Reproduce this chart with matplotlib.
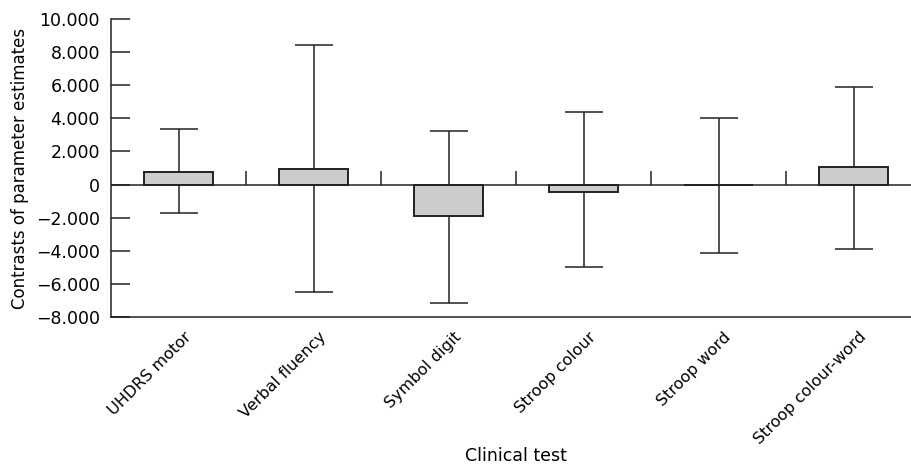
import numpy as np
import matplotlib
matplotlib.use("Agg")
import matplotlib.pyplot as plt
import matplotlib.transforms as mtransforms
from matplotlib.ticker import FuncFormatter

# values (contrasts, with CI bounds)
tests = ["UHDRS motor", "Verbal fluency", "Symbol digit",
         "Stroop colour", "Stroop word", "Stroop colour-word"]
estimate = [0.77, 0.95, -1.91, -0.42, 0.0, 1.05]
upper = [3.36, 8.41, 3.26, 4.37, 3.99, 5.92]
lower = [-1.71, -6.48, -7.17, -4.97, -4.13, -3.87]

plt.rcParams["font.family"] = ["DejaVu Sans"]
plt.rcParams["font.size"] = 11

fig = plt.figure(figsize=(9.11, 4.70), dpi=100)
ax = fig.add_axes([111 / 911, 153 / 470, 810 / 911, 298 / 470])

x = np.arange(len(tests))
est = np.array(estimate)
yerr = [est - np.array(lower), np.array(upper) - est]

ax.bar(x, est, width=0.51, color="#cccccc", edgecolor="#222222", linewidth=1.4, zorder=3)
ax.errorbar(x, est, yerr=yerr, fmt="none", ecolor="#222222", elinewidth=1.1,
            capsize=14, capthick=1.1, zorder=2)

# zero line with category-boundary tick marks
ax.axhline(0, color="#222222", linewidth=1.1, zorder=4)
bounds = np.arange(len(tests) - 1) + 0.5
ax.vlines(bounds, 0, 0.8, color="#222222", linewidth=1.1, zorder=4)

ax.set_xlim(-0.5, len(tests) - 0.5)
ax.set_ylim(-8, 10)
ax.set_yticks(np.arange(-8, 11, 2))
ax.yaxis.set_major_formatter(FuncFormatter(
    lambda v, p: "0" if v == 0 else f"{v:.3f}".replace("-", "\u2212")))
ax.tick_params(axis="y", direction="in", length=14, width=1.1, color="#222222",
               pad=8, labelsize=12.5)
ax.tick_params(axis="x", length=0, pad=9, labelsize=11.5)

ax.set_xticks(x)
ax.set_xticklabels(tests, rotation=45, ha="right", va="top", rotation_mode="anchor")
shift = mtransforms.ScaledTranslation(5 / 100, 0, fig.dpi_scale_trans)
for lbl in ax.get_xticklabels():
    lbl.set_transform(lbl.get_transform() + shift)

for s in ["top", "right"]:
    ax.spines[s].set_visible(False)
for s in ["left", "bottom"]:
    ax.spines[s].set_linewidth(1.1)
    ax.spines[s].set_color("#222222")

ax.set_ylabel("Contrasts of parameter estimates", fontsize=12, labelpad=6)
ax.yaxis.set_label_coords(-0.101, 0.5)
ax.set_xlabel("Clinical test", fontsize=12.5)
ax.xaxis.set_label_coords(0.5, -0.435)

fig.savefig("out.png", dpi=100)
